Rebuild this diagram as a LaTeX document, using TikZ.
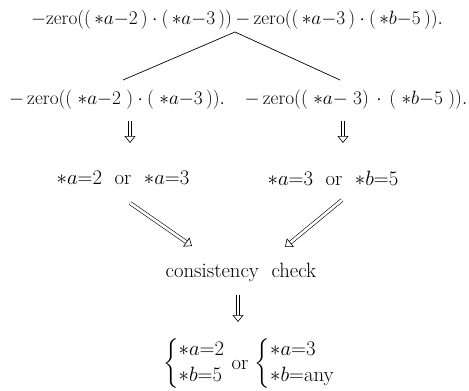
\RequirePackage{fix-cm}
\documentclass[tikz,border=0pt]{standalone}
\usepackage{amsmath,amssymb}
\usetikzlibrary{arrows.meta}

\begin{document}
\begin{tikzpicture}[x=1pt, y=-1pt, every node/.style={font=\fontsize{20.7}{24}\selectfont, inner sep=1pt},
    goal/.style={font=\fontsize{19.3}{23}\selectfont},
    dbl/.style={double, double distance=2.6pt, line width=0.6pt, -{Triangle[open, length=7pt, width=11pt]}}]

\useasboundingbox (0,0) rectangle (469,391);

% --- top goal ---
\node[goal] (top) at (237,20) {$-\mathrm{zero}((\,\ast a{-}2\,)\cdot(\,\ast a{-}3\,))\,{-}\,\mathrm{zero}((\,\ast a{-}3\,)\cdot(\,\ast b{-}5\,)).$};
\coordinate (apex) at (235,32);
\coordinate (lend) at (123,80);
\coordinate (rend) at (340,80);
\draw[line width=0.7pt] (lend) -- (apex) -- (rend);

% --- split ---
\node[goal] (zl) at (117,100) {$-\,\mathrm{zero}((\;\ast a{-}2\;)\cdot(\;\ast a{-}3\,)).$};
\node[goal] (zr) at (356,100) {$-\,\mathrm{zero}((\;\ast a{-}\;3)\,\cdot\,(\;\ast b{-}5\;)).$};

% --- solutions ---
\node (sl) at (123,178) {$\ast a{=}2$\ \ or\ \ $\ast a{=}3$};
\node (sr) at (333,178) {$\ast a{=}3$\ \ or\ \ $\ast b{=}5$};
\coordinate (zlb) at (130,121);
\coordinate (slt) at (130,143);
\coordinate (zrb) at (343,121);
\coordinate (srt) at (343,143);
\draw[dbl] (zlb) -- (slt);
\draw[dbl] (zrb) -- (srt);

% --- check ---
\node (chk) at (241,272) {consistency\ \ check};
\coordinate (la) at (130,203);
\coordinate (lb) at (192,246);
\coordinate (ra) at (342,200);
\coordinate (rb) at (285,247);
\draw[dbl] (la) -- (lb);
\draw[dbl] (ra) -- (rb);

% --- result ---
\node (res) at (249,364) {$\left\{\begin{array}{@{}l@{}}\ast a{=}2\\[2pt] \ast b{=}5\end{array}\right.$\ or\ $\left\{\begin{array}{@{}l@{}}\ast a{=}3\\[2pt] \ast b{=}\text{any}\end{array}\right.$};
\coordinate (cb) at (238,295);
\coordinate (rt) at (238,322);
\draw[dbl] (cb) -- (rt);

\end{tikzpicture}
\end{document}
